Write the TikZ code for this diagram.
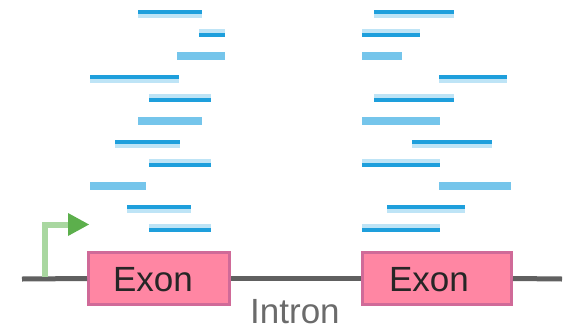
\documentclass[tikz,border=0pt]{standalone}
\usepackage{fontspec}
\setmainfont{Liberation Sans}
\usetikzlibrary{arrows.meta}
\definecolor{bdark}{HTML}{1E9FDC}
\definecolor{blight}{HTML}{BEE4F6}
\definecolor{bmid}{HTML}{75C5EB}
\definecolor{exfill}{HTML}{FF86A3}
\definecolor{exdraw}{HTML}{D06A98}
\definecolor{gline}{HTML}{A9D7A0}
\definecolor{garrow}{HTML}{5CAF4C}
\definecolor{backb}{HTML}{606060}
\tikzset{
  exonbox/.style={draw=exdraw, fill=exfill, line width=3pt, minimum height=52pt, inner sep=0pt},
  exontext/.style={inner sep=0pt, text=black!85, font=\fontsize{35}{40}\selectfont},
  introntext/.style={inner sep=0pt, text=black!58, font=\fontsize{35}{40}\selectfont},
  backbone/.style={draw=backb, line width=5pt},
}
\newcommand{\readD}[3]{% dark top
  \fill[bdark] (#1,#3) rectangle (#2,#3+4);
  \fill[blight] (#1,#3+4) rectangle (#2,#3+8);}
\newcommand{\readL}[3]{% light top
  \fill[blight] (#1,#3) rectangle (#2,#3+4);
  \fill[bdark] (#1,#3+4) rectangle (#2,#3+8);}
\newcommand{\readM}[3]{%
  \fill[bmid] (#1,#3) rectangle (#2,#3+8);}
\begin{document}
\begin{tikzpicture}[x=1pt,y=-1pt]
\useasboundingbox (0,0) rectangle (564,327);
% reads, left
\readD{138}{202}{10}
\readL{199}{225}{29}
\readM{177}{225}{52}
\readD{90}{179}{75}
\readL{149}{211}{94}
\readM{138}{202}{117}
\readD{115}{180}{140}
\readL{149}{211}{159}
\readM{90}{146}{182}
\readD{127}{191}{205}
\readL{149}{211}{224}
% reads, right
\readD{374}{454}{10}
\readL{362}{420}{29}
\readM{362}{402}{52}
\readD{439}{507}{75}
\readL{374}{454}{94}
\readM{362}{440}{117}
\readD{412}{492}{140}
\readL{362}{440}{159}
\readM{439}{511}{182}
\readD{387}{465}{205}
\readL{362}{440}{224}
% gene
\coordinate (s) at (22,279);
\coordinate (t) at (562,279);
\node[exonbox, minimum width=141pt] (e1) at (159,278.5) {};
\node[exonbox, minimum width=149pt] (e2) at (437,278.5) {};
\draw[backbone] (s) -- (e1.west);
\draw[backbone] (e1.east) -- (e2.west);
\draw[backbone] (e2.east) -- (t);
\node[exontext] (x1) at (153,280) {Exon};
\node[exontext] (x2) at (429,280) {Exon};
\node[introntext, anchor=base west] (in) at (250,323.5) {Intron};
% promoter arrow
\coordinate (p0) at (45,276.5);
\coordinate (p1) at (45,224.5);
\coordinate (p2) at (70,224.5);
\coordinate (p3) at (89,224.5);
\draw[gline, line width=6pt] (p0) -- (p1) -- (p2);
\fill[garrow] (68,213) -- (p3) -- (68,236) -- cycle;
\end{tikzpicture}
\end{document}
